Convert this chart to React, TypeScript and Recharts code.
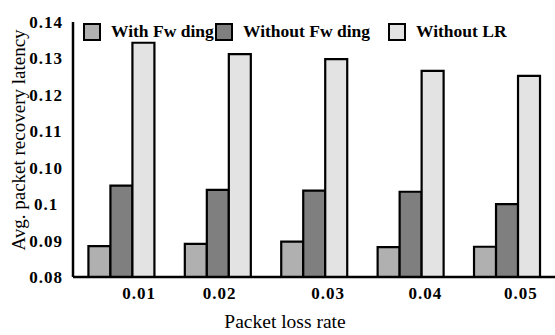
import React from 'react';
import { BarChart, Bar, XAxis, YAxis, Legend, Label } from 'recharts';

// Packet loss rate (x categories)
const lossRates = ['0.01', '0.02', '0.03', '0.04', '0.05'];

const withFwding = [0.0885, 0.0891, 0.0897, 0.0882, 0.0883];
const withoutFwding = [0.1051, 0.1039, 0.1037, 0.1034, 0.1];
const withoutLR = [0.1443, 0.1412, 0.1398, 0.1366, 0.1352];

// the original axis prints its tick labels like this (note "0.1" and "0.10")
const yTicks = [0.08, 0.09, 0.1, 0.11, 0.12, 0.13, 0.14, 0.15];
const yTickLabels = ['0.08', '0.09', '0.1', '0.10', '0.11', '0.12', '0.13', '0.14'];

const seriesNames = ['With Fw ding', 'Without Fw ding', 'Without LR'];
const seriesColors = ['#b0b0b0', '#7f7f7f', '#e3e3e3'];

const data = lossRates.map((rate, i) => ({
  rate,
  withFwding: withFwding[i],
  withoutFwding: withoutFwding[i],
  withoutLR: withoutLR[i],
}));

const FONT = "'Liberation Serif', 'Times New Roman', serif";

// x labels sit a little right of the bar groups in the original
const xNudge = [18, 2, 14, 15, 14];
// legend item widths so the swatches land where the original has them
const legendItemWidths = [132, 173, 'auto'];

const XTick = ({ x, y, payload, index }: any) => (
  <text
    x={x + (xNudge[index] || 0)}
    y={y + 14}
    textAnchor="middle"
    fontFamily={FONT}
    fontSize={17}
    fontWeight="bold"
    letterSpacing={1}
    fill="#000"
  >
    {payload.value}
  </text>
);

const YTick = ({ y, index }: any) => (
  <text
    x={46}
    y={y}
    dy={6}
    textAnchor="middle"
    fontFamily={FONT}
    fontSize={17}
    fontWeight="bold"
    letterSpacing={1}
    fill="#000"
  >
    {yTickLabels[index]}
  </text>
);

const ChartLegend = () => (
  <div style={{ display: 'flex', alignItems: 'center', fontFamily: FONT, fontSize: 17.5, fontWeight: 'bold' }}>
    {seriesNames.map((name, i) => (
      <div key={name} style={{ display: 'flex', alignItems: 'center', width: legendItemWidths[i], whiteSpace: 'nowrap' }}>
        <span
          style={{
            display: 'inline-block',
            flex: 'none',
            width: 14,
            height: 14,
            border: '2px solid #000',
            background: seriesColors[i],
            marginRight: 10,
          }}
        />
        <span>{name}</span>
      </div>
    ))}
  </div>
);

const App: React.FC = () => {
  return (
    <div style={{ position: 'absolute', left: 0, top: 0, width: 555, height: 335, background: '#fff' }}>
      <BarChart
        width={555}
        height={335}
        data={data}
        margin={{ top: 22, right: 0, bottom: 0, left: 0 }}
        barCategoryGap="16%"
        barGap={0}
      >
        <XAxis
          dataKey="rate"
          height={58}
          axisLine={{ stroke: '#000', strokeWidth: 2.5 }}
          tickLine={false}
          tick={<XTick />}
          interval={0}
        >
          <Label
            content={() => (
              <text x={285} y={328} textAnchor="middle" fontFamily={FONT} fontSize={19.5} fill="#000">
                Packet loss rate
              </text>
            )}
          />
        </XAxis>
        <YAxis
          width={73}
          domain={[0.08, 0.15]}
          ticks={yTicks}
          interval={0}
          allowDataOverflow
          axisLine={{ stroke: '#000', strokeWidth: 2.5 }}
          tickLine={false}
          tick={<YTick />}
        >
          <Label
            content={() => (
              <text
                x={18}
                y={140}
                transform="rotate(-90 18 140)"
                textAnchor="middle"
                dominantBaseline="central"
                fontFamily={FONT}
                fontSize={19}
                fill="#000"
              >
                Avg. packet recovery latency
              </text>
            )}
          />
        </YAxis>
        <Legend
          layout="horizontal"
          verticalAlign="middle"
          align="center"
          content={<ChartLegend />}
          wrapperStyle={{ top: 21, left: 83, width: 'auto' }}
        />
        <Bar dataKey="withFwding" name={seriesNames[0]} fill={seriesColors[0]} stroke="#000" strokeWidth={2.2} isAnimationActive={false} />
        <Bar dataKey="withoutFwding" name={seriesNames[1]} fill={seriesColors[1]} stroke="#000" strokeWidth={2.2} isAnimationActive={false} />
        <Bar dataKey="withoutLR" name={seriesNames[2]} fill={seriesColors[2]} stroke="#000" strokeWidth={2.2} isAnimationActive={false} />
      </BarChart>
    </div>
  );
};

export default App;
